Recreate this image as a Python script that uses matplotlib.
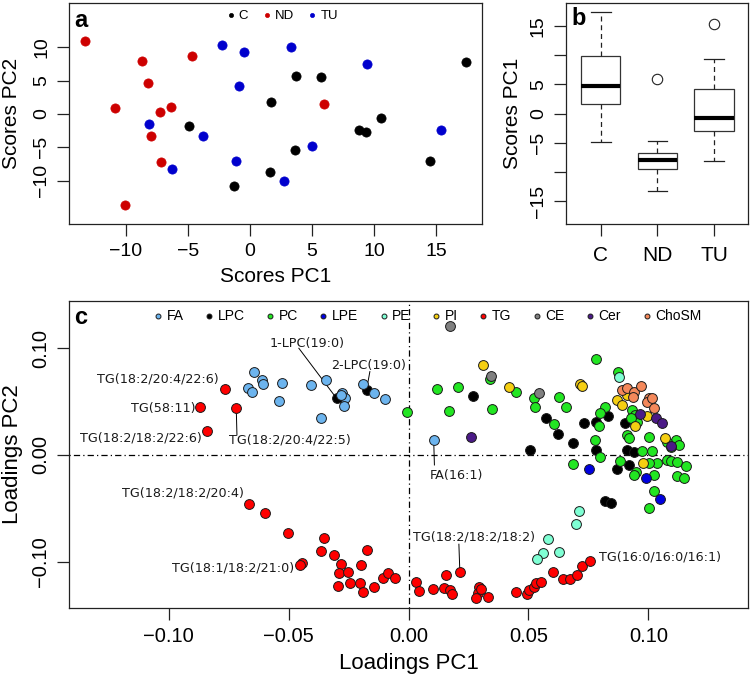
import matplotlib
matplotlib.use('Agg')
import matplotlib.pyplot as plt
import numpy as np

plt.rcParams['font.family'] = ['Liberation Sans', 'DejaVu Sans']

# ---- panel a / b: PCA scores per group ----
c_pc1 = [-4.9, -1.26, 3.68, 5.75, 1.7, 10.56, 8.8, 9.33, 3.63, 1.6, 14.5, 17.4]
c_pc2 = [-1.75, -10.75, 5.7, 5.6, 1.8, -0.65, -2.4, -2.65, -5.35, -8.65, -7.1, 7.85]
nd_pc1 = [-13.3, -8.7, -8.2, -10.9, -7.26, -6.35, -7.96, -7.15, -10.1, -4.65, 6.0]
nd_pc2 = [11.0, 7.95, 4.7, 0.95, 0.35, 1.1, -3.25, -7.15, -13.7, 8.7, 1.5]
tu_pc1 = [-8.15, -6.26, -3.76, -2.26, -0.5, -0.86, -1.13, 3.28, 9.4, 5.03, 2.77, 15.4]
tu_pc2 = [-1.5, -8.2, -3.3, 10.35, 9.35, 4.2, -7.1, 10.05, 7.55, -4.85, -10.1, -2.45]
groups = ['C', 'ND', 'TU']
group_colors = ['black', '#cd0000', '#0000cd']

# ---- panel c: loadings per lipid class ----
fa_x = [-0.0642, -0.0668, -0.0651, -0.0610, -0.0608, -0.0529, -0.0540, -0.0408, -0.0342,
        -0.0364, -0.0276, -0.0265, -0.0270, -0.0283, -0.0189, -0.0145, -0.0100, 0.0105]
fa_y = [0.0781, 0.0631, 0.0593, 0.0703, 0.0663, 0.0678, 0.0509, 0.0656, 0.0703,
        0.0344, 0.0578, 0.0531, 0.0462, 0.0560, 0.0663, 0.0578, 0.0522, 0.0141]
lpc_x = [-0.0300, -0.0175, 0.0270, 0.0574, 0.0622, 0.0685, 0.0733, 0.0508, 0.0832,
         0.0783, 0.0783, 0.0904, 0.0911, 0.0939, 0.0867, 0.0918, 0.0821, 0.0842]
lpc_y = [0.0531, 0.0609, 0.0550, 0.0350, 0.0197, 0.0110, 0.0297, 0.0047, 0.0368,
         0.0313, 0.0047, 0.0297, 0.0047, 0.0031, -0.0134, -0.0094, -0.0431, -0.0453]
pc_x = [-0.0005, 0.0338, 0.0120, 0.0207, 0.0168, 0.0349, 0.0446, 0.0522, 0.0529, 0.0629,
        0.0657, 0.0608, 0.0783, 0.0874, 0.0821, 0.0800, 0.0793, 0.0776, 0.0932, 0.0946,
        0.0953, 0.0928, 0.0911, 0.0918, 0.1001, 0.1113, 0.1126, 0.1092, 0.1078, 0.0974,
        0.1015, 0.0797, 0.0686, 0.0883, 0.1036, 0.1001, 0.0950, 0.0939, 0.1022, 0.1078,
        0.1092, 0.1120, 0.1158, 0.1120, 0.1150, 0.1022, 0.1001]
pc_y = [0.0406, 0.0709, 0.0616, 0.0640, 0.0415, 0.0431, 0.0593, 0.0531, 0.0453, 0.0547,
        0.0453, 0.0288, 0.0900, 0.0781, 0.0453, 0.0390, 0.0272, 0.0141, 0.0422, 0.0375,
        0.0313, 0.0344, 0.0187, 0.0156, 0.0172, 0.0141, 0.0094, 0.0078, 0.0125, 0.0037,
        0.0037, -0.0016, -0.0084, -0.0053, -0.0072, -0.0078, -0.0156, -0.0187, -0.0187, -0.0047,
        -0.0053, -0.0062, -0.0103, -0.0197, -0.0219, -0.0334, -0.0500]
lpe_x = [0.0751, 0.0988, 0.1047]
lpe_y = [-0.0134, -0.0219, -0.0416]
pe_x = [0.0876, 0.0710, 0.0700, 0.0582, 0.0560, 0.0536, 0.0629]
pe_y = [0.0728, -0.0525, -0.0647, -0.0790, -0.0922, -0.0978, -0.0912]
pi_x = [0.0311, 0.0418, 0.0713, 0.0724, 0.0870, 0.0890, 0.0911, 0.0995, 0.0943, 0.1071, 0.0978]
pi_y = [0.0843, 0.0637, 0.0663, 0.0650, 0.0515, 0.0469, 0.0562, 0.0368, 0.0272, 0.0156, -0.0072]
tg_x = [-0.0765, -0.0867, -0.0838, -0.0718, -0.0663, -0.0599, -0.0503, -0.0353, -0.0364, -0.0311,
        -0.0175, -0.0443, -0.0453, -0.0283, -0.0197, -0.0290, -0.0251, -0.0295, -0.0245, -0.0201,
        -0.0191, -0.0145, -0.0105, -0.0085, -0.0055, 0.0030, 0.0045, 0.0104, 0.0158, 0.0150,
        0.0174, 0.0180, 0.0214, 0.0294, 0.0288, 0.0283, 0.0333, 0.0304, 0.0447, 0.0493,
        0.0503, 0.0523, 0.0533, 0.0553, 0.0603, 0.0643, 0.0672, 0.0702, 0.0722, 0.0758]
tg_y = [0.0616, 0.0453, 0.0225, 0.0443, -0.0459, -0.0547, -0.0734, -0.0781, -0.0900, -0.0937,
        -0.0890, -0.1015, -0.1031, -0.1022, -0.1031, -0.1103, -0.1094, -0.1225, -0.1197, -0.1197,
        -0.1281, -0.1240, -0.1156, -0.1109, -0.1150, -0.1187, -0.1272, -0.1256, -0.1125, -0.1249,
        -0.1265, -0.1306, -0.1094, -0.1234, -0.1296, -0.1343, -0.1328, -0.1259, -0.1281, -0.1306,
        -0.1265, -0.1234, -0.1203, -0.1187, -0.1094, -0.1165, -0.1165, -0.1125, -0.1040, -0.0990]
ce_x = [0.0172, 0.0343, 0.0542]
ce_y = [0.1209, 0.0743, 0.0578]
cer_x = [0.0261, 0.0964, 0.1033, 0.1057, 0.1095]
cer_y = [0.0166, 0.0381, 0.0350, 0.0303, 0.0087]
chosm_x = [0.0890, 0.0911, 0.0939, 0.0971, 0.1001, 0.0995, 0.1013, 0.1022, 0.0935]
chosm_y = [0.0609, 0.0631, 0.0588, 0.0647, 0.0537, 0.0500, 0.0531, 0.0438, 0.0547]

classes = ['FA', 'LPC', 'PC', 'LPE', 'PE', 'PI', 'TG', 'CE', 'Cer', 'ChoSM']
class_colors = ['#6cb4ee', 'black', '#22e622', '#0000e0', '#7fffd4', '#f5cf12',
                '#ff0000', '#808080', '#4b1a87', '#f4885a']
class_x = [fa_x, lpc_x, pc_x, lpe_x, pe_x, pi_x, tg_x, ce_x, cer_x, chosm_x]
class_y = [fa_y, lpc_y, pc_y, lpe_y, pe_y, pi_y, tg_y, ce_y, cer_y, chosm_y]

# labelled loadings: text, point, text position, alignment, start of leader line
labels_c = [
    ('1-LPC(19:0)', (-0.0300, 0.0531), (-0.0422, 0.1047), 'center', (-0.0457, 0.1000)),
    ('2-LPC(19:0)', (-0.0175, 0.0609), (-0.0165, 0.0843), 'center', (-0.0161, 0.0781)),
    ('TG(18:2/20:4/22:6)', (-0.0765, 0.0616), (-0.0792, 0.0712), 'right', None),
    ('TG(58:11)', (-0.0867, 0.0453), (-0.0888, 0.0431), 'right', None),
    ('TG(18:2/18:2/22:6)', (-0.0838, 0.0225), (-0.0860, 0.0162), 'right', None),
    ('TG(18:2/20:4/22:5)', (-0.0718, 0.0443), (-0.0496, 0.0141), 'center', (-0.0715, 0.0187)),
    ('FA(16:1)', (0.0105, 0.0141), (0.0200, -0.0197), 'center', (0.0108, -0.0094)),
    ('TG(18:2/18:2/20:4)', (-0.0663, -0.0459), (-0.0688, -0.0359), 'right', None),
    ('TG(18:1/18:2/21:0)', (-0.0443, -0.1015), (-0.0478, -0.1056), 'right', None),
    ('TG(18:2/18:2/18:2)', (0.0214, -0.1094), (0.0272, -0.0766), 'center', (0.0210, -0.0837)),
    ('TG(16:0/16:0/16:1)', (0.0758, -0.0990), (0.0796, -0.0959), 'left', None),
]


def fivenum_stats(vals, label):
    v = np.sort(np.asarray(vals, dtype=float))
    n = len(v)
    med = np.median(v)
    half = (n + 1) // 2
    q1 = np.median(v[:half])
    q3 = np.median(v[n - half:])
    iqr = q3 - q1
    inside = v[(v >= q1 - 1.5 * iqr) & (v <= q3 + 1.5 * iqr)]
    return dict(med=med, q1=q1, q3=q3, whislo=inside.min(), whishi=inside.max(),
                fliers=v[(v < inside.min()) | (v > inside.max())], label=label)


def style_axes(ax, size):
    for s in ax.spines.values():
        s.set_linewidth(0.9)
        s.set_color('#222222')
    ax.tick_params(length=8.5, width=0.9, pad=5, labelsize=size, color='#222222')
    ax.tick_params(axis='y', labelrotation=90)
    for t in ax.get_yticklabels():
        t.set_va('center')


fig = plt.figure(figsize=(7.5, 6.77), dpi=100)

# ---------------- panel a ----------------
ax_a = fig.add_axes([69 / 750, 1 - 224 / 677, 413 / 750, 221 / 677])
for gx, gy, name, col in zip([c_pc1, nd_pc1, tu_pc1], [c_pc2, nd_pc2, tu_pc2], groups, group_colors):
    ax_a.scatter(gx, gy, s=44, color=col, edgecolors=col, linewidths=0.5, label=name, zorder=3)
ax_a.set_xlim(-14.6, 18.7)
ax_a.set_ylim(-16.5, 16.65)
ax_a.set_xticks([-10, -5, 0, 5, 10, 15])
ax_a.set_yticks([-10, -5, 0, 5, 10])
style_axes(ax_a, 14)
ax_a.set_xlabel('Scores PC1', fontsize=15, va='center')
ax_a.xaxis.set_label_coords(0.5, -(276 - 224) / 221)
ax_a.set_ylabel('Scores PC2', fontsize=15, va='center')
ax_a.yaxis.set_label_coords((11 - 69) / 413, 0.5)
ax_a.legend(loc='upper center', ncol=3, frameon=False, fontsize=9.5, markerscale=0.45,
            handlelength=0.8, handletextpad=0.2, columnspacing=1.0, borderaxespad=0.1,
            bbox_to_anchor=(0.515, 1.0))
ax_a.text(0.012, 0.92, 'a', transform=ax_a.transAxes, fontsize=17, fontweight='bold',
          ha='left', va='center')

# ---------------- panel b ----------------
ax_b = fig.add_axes([565.7 / 750, 1 - 224 / 677, 182.3 / 750, 221 / 677])
stats = [fivenum_stats(v, g) for v, g in zip([c_pc1, nd_pc1, tu_pc1], groups)]
ax_b.bxp(stats, widths=0.69, capwidths=0.345, patch_artist=True,
         boxprops=dict(facecolor='white', edgecolor='#333333', linewidth=0.9),
         whiskerprops=dict(linestyle=(0, (4, 3)), color='#222222', linewidth=0.9),
         capprops=dict(color='#222222', linewidth=0.9),
         medianprops=dict(color='black', linewidth=3, solid_capstyle='butt'),
         flierprops=dict(marker='o', markerfacecolor='none', markeredgecolor='#222222',
                         markersize=7.5, markeredgewidth=0.8))
ax_b.set_xlim(0.38, 3.6)
ax_b.set_ylim(-18.9, 18.95)
ax_b.set_yticks([-15, -10, -5, 0, 5, 10, 15])
ax_b.set_yticklabels(['\u221215', '', '\u22125', '0', '5', '', '15'])
style_axes(ax_b, 14)
ax_b.tick_params(axis='x', labelsize=15, pad=7)
ax_b.set_ylabel('Scores PC1', fontsize=15, va='center')
ax_b.yaxis.set_label_coords((512 - 565.7) / 182.3, 0.5)
ax_b.text(0.03, 0.93, 'b', transform=ax_b.transAxes, fontsize=17, fontweight='bold',
          ha='left', va='center')

# ---------------- panel c ----------------
ax_c = fig.add_axes([69 / 750, 1 - 608 / 677, 679 / 750, 307 / 677])
ax_c.axvline(0, color='black', linewidth=0.9, dashes=(1, 2.5, 5, 2.5), zorder=1)
ax_c.axhline(0, color='black', linewidth=0.9, dashes=(1, 2.5, 5, 2.5), zorder=1)
draw_order = [1, 0, 2, 3, 4, 5, 6, 7, 8, 9]
for i in draw_order:
    ax_c.scatter(class_x[i], class_y[i], s=50, color=class_colors[i], edgecolors='#1a1a1a',
                 linewidths=0.7, zorder=3, label=classes[i])
for text, (px, py), (tx, ty), ha, start in labels_c:
    if start is not None:
        ax_c.plot([start[0], px], [start[1], py], color='black', linewidth=0.7, zorder=2)
    ax_c.text(tx, ty, text, fontsize=9.2, family='DejaVu Sans', ha=ha, va='center',
              color='#1a1a1a', zorder=4)
ax_c.set_xlim(-0.1415, 0.1415)
ax_c.set_ylim(-0.1435, 0.1443)
ax_c.set_xticks([-0.10, -0.05, 0.0, 0.05, 0.10])
ax_c.set_xticklabels(['\u22120.10', '\u22120.05', '0.00', '0.05', '0.10'])
ax_c.set_yticks([-0.10, 0.0, 0.10])
ax_c.set_yticklabels(['\u22120.10', '0.00', '0.10'])
style_axes(ax_c, 14.5)
ax_c.set_xlabel('Loadings PC1', fontsize=16, va='center')
ax_c.xaxis.set_label_coords(0.5, -(664 - 608) / 307)
ax_c.set_ylabel('Loadings PC2', fontsize=16, va='center')
ax_c.yaxis.set_label_coords((12 - 69) / 679, 0.5)
handles, labs = ax_c.get_legend_handles_labels()
order = [labs.index(c) for c in classes]
ax_c.legend([handles[k] for k in order], classes, loc='upper center', ncol=10, frameon=False,
            fontsize=10, markerscale=0.5, handlelength=0.8, handletextpad=0.2,
            columnspacing=1.45, borderaxespad=0.15, bbox_to_anchor=(0.527, 1.0))
ax_c.text(0.007, 0.945, 'c', transform=ax_c.transAxes, fontsize=17, fontweight='bold',
          ha='left', va='center')

fig.savefig('out.png', dpi=100)
